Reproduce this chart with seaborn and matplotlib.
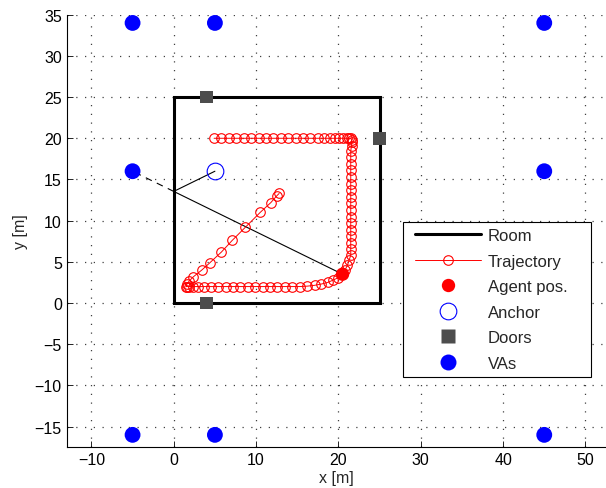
import numpy as np
import pandas as pd
import matplotlib
matplotlib.use("Agg")
import matplotlib.pyplot as plt
from matplotlib.lines import Line2D
from matplotlib.legend_handler import HandlerLine2D
import seaborn as sns

# ---------------- data ----------------
room_x = [0, 25, 25, 0, 0]
room_y = [0, 0, 25, 25, 0]

traj_x = [4.9, 5.8, 6.7, 7.6, 8.5, 9.4, 10.3, 11.2, 12.1, 13.0, 13.9, 14.8, 15.7, 16.6,
          17.5, 18.3, 19.0, 19.6, 20.1, 20.6, 21.0, 21.3, 21.5,
          21.6, 21.6, 21.6,
          21.5, 21.5, 21.5, 21.5, 21.5, 21.5, 21.5, 21.5, 21.5, 21.5, 21.5, 21.5, 21.5,
          21.5, 21.5, 21.5, 21.5,
          21.3, 21.1, 20.8, 20.5, 20.0, 19.4, 18.7, 17.9, 17.1, 16.2, 15.3,
          14.4, 13.5, 12.6, 11.7, 10.8, 9.9, 9.0, 8.1, 7.2, 6.3, 5.4, 4.5, 3.7, 3.0,
          2.4, 1.9, 1.6, 1.5,
          1.6, 1.9, 2.4, 3.4, 4.4, 5.8, 7.1, 8.7, 10.5, 11.8, 12.5, 12.8]
traj_y = [20.0, 20.0, 20.0, 20.0, 20.0, 20.0, 20.0, 20.0, 20.0, 20.0, 20.0, 20.0, 20.0, 20.0,
          20.0, 20.0, 20.0, 20.0, 20.0, 20.0, 20.0, 20.0, 20.0,
          19.8, 19.5, 19.1,
          18.5, 17.7, 16.9, 16.1, 15.3, 14.5, 13.7, 12.9, 12.1, 11.3, 10.5, 9.7, 8.9,
          8.1, 7.3, 6.5, 5.8,
          5.2, 4.6, 4.0, 3.5, 3.1, 2.8, 2.5, 2.3, 2.15, 2.05, 2.0,
          2.0, 2.0, 2.0, 2.0, 2.0, 2.0, 2.0, 2.0, 2.0, 2.0, 2.0, 2.0, 2.0, 2.0,
          2.0, 2.0, 2.0, 2.0,
          2.3, 2.7, 3.2, 4.0, 4.9, 6.2, 7.6, 9.2, 11.0, 12.2, 13.0, 13.3]

agent_x = [20.5]
agent_y = [3.5]
anchor_x = [5]
anchor_y = [16]
door_x = [4, 25, 4]
door_y = [25, 20, 0]
va_x = [-5, 5, 45, -5, 45, -5, 5, 45]
va_y = [34, 34, 34, 16, 16, -16, -16, -16]

# reflection path: agent -> wall point -> anchor, and dashed wall point -> VA
refl_x = [20.5, 0.0, 5.0]
refl_y = [3.5, 13.55, 16.0]
img_x = [0.0, -5.0]
img_y = [13.55, 16.0]

x_ticks = [-10, 0, 10, 20, 30, 40, 50]
y_ticks = [-15, -10, -5, 0, 5, 10, 15, 20, 25, 30, 35]

labels = ['Room', 'Trajectory', 'Agent pos.', 'Anchor', 'Doors', 'VAs']

# ---------------- style ----------------
sns.set_style("white")
plt.rcParams['font.family'] = ['Liberation Sans', 'DejaVu Sans']
plt.rcParams['font.size'] = 11.5

fig = plt.figure(figsize=(6.06, 4.89), dpi=100)
ax = fig.add_axes([66.7 / 606, (489 - 447.8) / 489, (606 - 66.7) / 606, (447.8 - 15.7) / 489])

ax.set_xlim(-13, 52.5)
ax.set_ylim(-17.45, 35)

ax.set_xticks(x_ticks)
ax.set_yticks(y_ticks)
ax.grid(True, color='0.25', linestyle=(0, (1, 6)), linewidth=0.9)
ax.set_axisbelow(True)

ROOM_LW = 2.2
TRAJ_MS = 6.9

# room
ax.plot(room_x, room_y, color='black', linewidth=ROOM_LW, solid_joinstyle='miter', zorder=3)

# reflection lines
ax.plot(refl_x, refl_y, color='black', linewidth=0.8, zorder=3)
ax.plot(img_x, img_y, color='black', linewidth=0.8, linestyle=(0, (6, 5)), zorder=3)

# trajectory
traj_df = pd.DataFrame({'x': traj_x, 'y': traj_y})
sns.lineplot(data=traj_df, x='x', y='y', sort=False, estimator=None, ax=ax,
             color='red', linewidth=0.7, marker='o', markersize=TRAJ_MS,
             markerfacecolor='none', markeredgecolor='red', markeredgewidth=0.8, zorder=4)

# agent
sns.scatterplot(x=agent_x, y=agent_y, ax=ax, s=92, color='red', edgecolor='none', zorder=5)
# anchor
ax.plot(anchor_x, anchor_y, linestyle='none', marker='o', markersize=12,
        markerfacecolor='none', markeredgecolor='blue', markeredgewidth=0.8, zorder=5)
# doors
sns.scatterplot(x=door_x, y=door_y, ax=ax, marker='s', s=85, color='#4d4d4d',
                edgecolor='none', zorder=5)
# VAs
sns.scatterplot(x=va_x, y=va_y, ax=ax, s=130, color='blue', edgecolor='none', zorder=5)

# axes styling
for s in ['top', 'right']:
    ax.spines[s].set_visible(False)
for s in ['left', 'bottom']:
    ax.spines[s].set_color('black')
    ax.spines[s].set_linewidth(0.8)
ax.tick_params(direction='in', length=4, width=0.6, labelsize=11.5, colors='black',
               left=True, bottom=True)
ax.set_xlabel('x [m]', fontsize=11.5, labelpad=2.5)
ax.set_ylabel('y [m]', fontsize=11.5, labelpad=5)

# legend
handles = [
    Line2D([], [], color='black', linewidth=ROOM_LW),
    Line2D([], [], color='red', linewidth=0.7, marker='o', markersize=TRAJ_MS,
           markerfacecolor='none', markeredgecolor='red', markeredgewidth=0.8),
    Line2D([], [], linestyle='none', marker='o', markersize=9.6, color='red', markeredgecolor='none'),
    Line2D([], [], linestyle='none', marker='o', markersize=12, markerfacecolor='none',
           markeredgecolor='blue', markeredgewidth=0.8),
    Line2D([], [], linestyle='none', marker='s', markersize=9.4, color='#4d4d4d', markeredgecolor='none'),
    Line2D([], [], linestyle='none', marker='o', markersize=11.5, color='blue', markeredgecolor='none'),
]
lx0, lx1, ly0, ly1 = 402.7, 590.7, 222.7, 375.7
leg = fig.legend(handles, labels, loc='upper left',
                 bbox_to_anchor=(lx0 / 606, (489 - ly1) / 489, (lx1 - lx0) / 606, (ly1 - ly0) / 489),
                 bbox_transform=fig.transFigure, mode='expand', numpoints=1,
                 frameon=True, fancybox=False, edgecolor='black', framealpha=1,
                 fontsize=12, handlelength=4.29, handletextpad=0.44, labelspacing=0.63,
                 borderpad=0.38, borderaxespad=0,
                 handler_map={Line2D: HandlerLine2D(xpad=0.37)})
leg.get_frame().set_linewidth(0.8)

fig.savefig('out.png', dpi=100)
